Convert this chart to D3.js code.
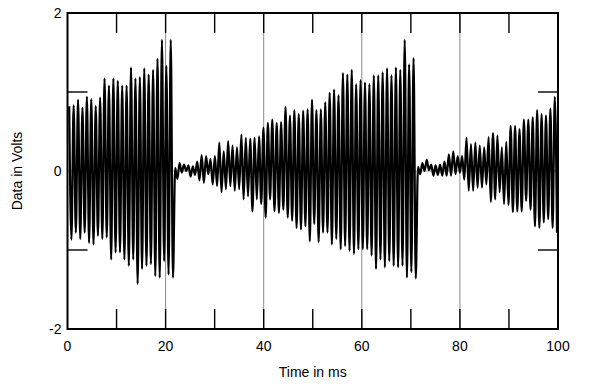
<!DOCTYPE html>
<html>
<head>
<meta charset="utf-8">
<script src="https://cdn.jsdelivr.net/npm/d3@7"></script>
<style>
  html, body { margin: 0; padding: 0; background: #fff; }
  svg { display: block; font-family: "Liberation Sans", Arial, sans-serif; }
</style>
</head>
<body>
<svg id="chart" width="600" height="386"></svg>
<script>
// ---- data ----
const sampleStart = 0.35;   // ms, time of first sample
const sampleStep = 0.45;    // ms between successive extrema samples
const volts = [
  // first burst (0 - 21.8 ms)
  0.82, -0.87, 0.83, -0.78, 0.90, -0.86, 0.80, -0.78, 0.94, -0.91, 0.91, -0.93,
  0.82, -0.82, 0.93, -0.86, 1.17, -0.84, 1.08, -1.12, 1.17, -1.03, 1.14, -1.03,
  1.08, -1.12, 1.08, -1.20, 1.31, -1.12, 1.17, -1.43, 1.19, -1.24, 1.30, -1.20,
  1.22, -1.18, 1.28, -1.33, 1.42, -1.35, 1.66, -1.14, 1.33, -1.31, 1.66, -1.35,
  // quiet gap
  0.04, -0.10, 0.10, -0.02, 0.08, 0.00, 0.07, -0.07, 0.06, -0.05, 0.12, -0.12, 0.20, -0.15,
  // second burst growing
  0.19, -0.04, 0.15, -0.17, 0.19, -0.19, 0.36, -0.27, 0.25, -0.23, 0.38, -0.19,
  0.32, -0.25, 0.30, -0.23, 0.46, -0.36, 0.42, -0.32, 0.41, -0.51, 0.42, -0.36,
  0.44, -0.42, 0.55, -0.59, 0.61, -0.36, 0.65,
  -0.51, 0.61, -0.53, 0.62, -0.49, 0.81, -0.59, 0.70, -0.63, 0.77, -0.72, 0.72,
  -0.74, 0.76, -0.70, 0.78, -0.89, 0.90, -0.67, 0.77, -0.90, 0.78, -0.78, 0.87,
  -0.78, 0.99, -0.93, 1.03, -0.86, 0.96, -0.99, 1.24,
  -0.95, 1.22, -1.01, 1.28, -1.05, 1.10, -0.99, 1.15, -0.99, 1.12, -0.99, 1.10,
  -1.07, 1.21, -1.24, 1.21, -1.12, 1.25, -1.22, 1.30, -1.14, 1.21, -1.20, 1.31,
  -1.22, 1.28, -1.20, 1.66, -1.35, 1.35, -1.28, 1.43, -1.36,
  // quiet gap
  0.05, -0.04, 0.10, 0.00, 0.14, 0.01, 0.08, -0.06, 0.07, -0.05, 0.08, -0.06, 0.12,
  // third burst growing
  -0.06, 0.21, -0.06, 0.25, -0.04, 0.19, -0.02, 0.19, -0.11, 0.42, -0.25, 0.34,
  -0.25, 0.36, -0.21, 0.32, -0.21, 0.30, -0.17,
  0.43, -0.39, 0.48, -0.36, 0.45, -0.27, 0.30, -0.42, 0.37, -0.43, 0.57, -0.52,
  0.57, -0.51, 0.53, -0.51, 0.65, -0.38, 0.65, -0.49, 0.68, -0.70, 0.77, -0.72,
  0.72, -0.65, 0.70, -0.61, 0.79, -0.72, 0.94, -0.78
];
const xTickValues = [0, 10, 20, 30, 40, 50, 60, 70, 80, 90, 100];
const xLabelValues = [0, 20, 40, 60, 80, 100];
const xGridValues = [20, 40, 60, 80];
const yTickValues = [-1, 1];
const yLabelValues = [-2, 0, 2];
const xTitle = "Time in ms";
const yTitle = "Data in Volts";

// ---- layout ----
const pL = 67.5, pR = 558, pT = 13, pB = 329;
const tickLen = 20;

const svg = d3.select("#chart");
const x = d3.scaleLinear().domain([0, 100]).range([pL, pR]);
const y = d3.scaleLinear().domain([-2, 2]).range([pB, pT]);

svg.append("defs").append("clipPath").attr("id", "clip")
  .append("rect").attr("x", pL).attr("y", pT)
  .attr("width", pR - pL).attr("height", pB - pT);

// grid lines
svg.append("g").selectAll("line").data(xGridValues).join("line")
  .attr("x1", d => x(d)).attr("x2", d => x(d))
  .attr("y1", pT).attr("y2", pB)
  .attr("stroke", "#8a8a8a").attr("stroke-width", 1);
svg.append("line")
  .attr("x1", pL).attr("x2", pR)
  .attr("y1", y(0)).attr("y2", y(0))
  .attr("stroke", "#777").attr("stroke-width", 0.7);

// waveform
const pts = volts.map((v, i) => [sampleStart + i * sampleStep, v]);
const line = d3.line().x(d => x(d[0])).y(d => y(d[1])).curve(d3.curveMonotoneX);
svg.append("path").datum(pts)
  .attr("clip-path", "url(#clip)")
  .attr("d", line)
  .attr("fill", "none").attr("stroke", "#000")
  .attr("stroke-width", 2.2).attr("stroke-linejoin", "round");

// inside ticks
const inner = xTickValues.filter(d => d > 0 && d < 100);
const tk = svg.append("g").attr("stroke", "#000").attr("stroke-width", 1.4);
tk.append("g").selectAll("line").data(inner).join("line")
  .attr("x1", d => x(d)).attr("x2", d => x(d))
  .attr("y1", pB).attr("y2", pB - tickLen);
tk.append("g").selectAll("line").data(inner).join("line")
  .attr("x1", d => x(d)).attr("x2", d => x(d))
  .attr("y1", pT).attr("y2", pT + tickLen);
tk.append("g").selectAll("line").data(yTickValues).join("line")
  .attr("x1", pL).attr("x2", pL + tickLen)
  .attr("y1", d => y(d)).attr("y2", d => y(d));
tk.append("g").selectAll("line").data(yTickValues).join("line")
  .attr("x1", pR).attr("x2", pR - tickLen)
  .attr("y1", d => y(d)).attr("y2", d => y(d));

// frame
svg.append("rect").attr("x", pL).attr("y", pT)
  .attr("width", pR - pL).attr("height", pB - pT)
  .attr("fill", "none").attr("stroke", "#000").attr("stroke-width", 2);

// labels
svg.append("g").selectAll("text").data(xLabelValues).join("text")
  .attr("x", d => x(d)).attr("y", pB + 22)
  .attr("text-anchor", "middle").attr("font-size", 14).attr("fill", "#000")
  .text(d => d);
svg.append("g").selectAll("text").data(yLabelValues).join("text")
  .attr("x", pL - 6).attr("y", d => y(d) + 5)
  .attr("text-anchor", "end").attr("font-size", 14).attr("fill", "#000")
  .text(d => d);
svg.append("text").attr("x", (pL + pR) / 2).attr("y", 377)
  .attr("text-anchor", "middle").attr("font-size", 14).attr("fill", "#000")
  .text(xTitle);
svg.append("text")
  .attr("transform", `translate(22,${(pT + pB) / 2}) rotate(-90)`)
  .attr("text-anchor", "middle").attr("font-size", 14).attr("fill", "#000")
  .text(yTitle);
</script>
</body>
</html>
